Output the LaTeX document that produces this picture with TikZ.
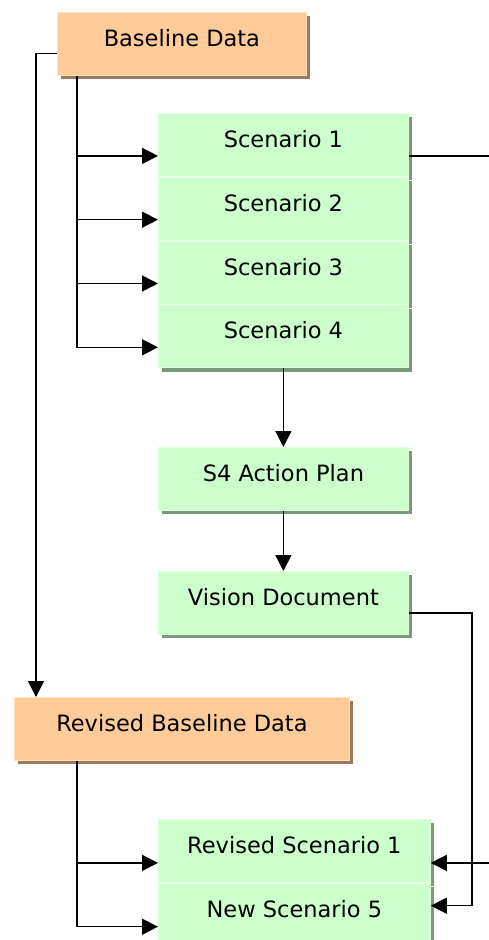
\documentclass[tikz,border=0pt]{standalone}
\usepackage{fontspec}
\setmainfont{DejaVu Sans}
\usetikzlibrary{positioning, arrows.meta, shadows}
\definecolor{datafill}{HTML}{FFCC99}
\definecolor{datashade}{HTML}{9C7B5C}
\definecolor{scenfill}{HTML}{CCFFCC}
\definecolor{scenshade}{HTML}{7A9A7A}
\definecolor{scenline}{HTML}{E8FFE8}

\begin{document}
\begin{tikzpicture}[
      x=1pt, y=-1pt,
      every node/.style={font=\fontsize{22.5}{27}\selectfont},
      box/.style={fill=#1, inner xsep=0pt, inner ysep=0pt, anchor=north west,
                  text height=34pt, text depth=29pt, minimum width=250pt},
      databox/.style={box=datafill, draw=datafill!55!white, line width=0.8pt,
                      drop shadow={shadow xshift=4pt, shadow yshift=-4pt,
                                   fill=datashade, opacity=1}},
      scenbox/.style={box=scenfill, draw=scenfill!60!white, line width=0.8pt,
                      drop shadow={shadow xshift=4pt, shadow yshift=-4pt,
                                   fill=scenshade, opacity=1}},
      divider/.style={draw=scenline, line width=1.5pt},
      link/.style={line width=1.5pt},
      >={Triangle[length=16pt, width=16pt]},
    ]
    \useasboundingbox (0,0) rectangle (489,940);

    % baseline data and the four scenarios
    \node[databox, minimum width=249pt] (base) at (57,12) {Baseline Data};
    \node[scenbox] (s1) at (158,113) {Scenario 1};
    \node[scenbox, below=0pt of s1] (s2) {Scenario 2};
    \node[scenbox, below=0pt of s2] (s3) {Scenario 3};
    \node[scenbox, below=0pt of s3] (s4) {Scenario 4};
    \foreach \r in {s1,s2,s3}
      \draw[divider] (\r.south west) -- ([xshift=-6pt]\r.south east);

    \node[scenbox] (plan)   at (158,447) {S4 Action Plan};
    \node[scenbox] (vision) at (158,571) {Vision Document};

    % revised data and scenarios
    \node[databox, minimum width=335pt] (rbase) at (14,697) {Revised Baseline Data};
    \node[scenbox, minimum width=272pt] (rs1) at (158,819) {Revised Scenario 1};
    \node[scenbox, minimum width=272pt, below=0pt of rs1] (ns5) {New Scenario 5};
    \draw[divider] (rs1.south west) -- ([xshift=-6pt]rs1.south east);

    \coordinate (trunk)  at ([xshift=20pt]base.south west);
    \coordinate (trunk2) at ([xshift=63pt]rbase.south west);
    \path ([yshift=-11pt]s1.east) ++(81,0) coordinate (edge1);
    \path ([yshift=-12pt]rs1.east) ++(59,0) coordinate (edge2);

    \foreach \r in {s1,s2,s3,s4}
      \draw[link, ->] (trunk) |- ([yshift=-11pt]\r.west);
    \draw[link] ([yshift=-11pt]s1.east) -- (edge1);
    \draw[link, ->] ([yshift=-9.5pt]base.west) -| ([xshift=22pt]rbase.north west);

    \draw[link, ->] (s4.south) -- (plan.north);
    \draw[link, ->] (plan.south) -- (vision.north);
    \draw[link, ->] ([yshift=-10pt]vision.east) -- ++(63,0) |- ([yshift=9pt]ns5.east);

    \draw[link, ->] (trunk2) |- ([yshift=-12pt]rs1.west);
    \draw[link, ->] (trunk2) |- ([yshift=-12pt]ns5.west);
    \draw[link, ->] (edge2) -- ([yshift=-12pt]rs1.east);
  \end{tikzpicture}
\end{document}
